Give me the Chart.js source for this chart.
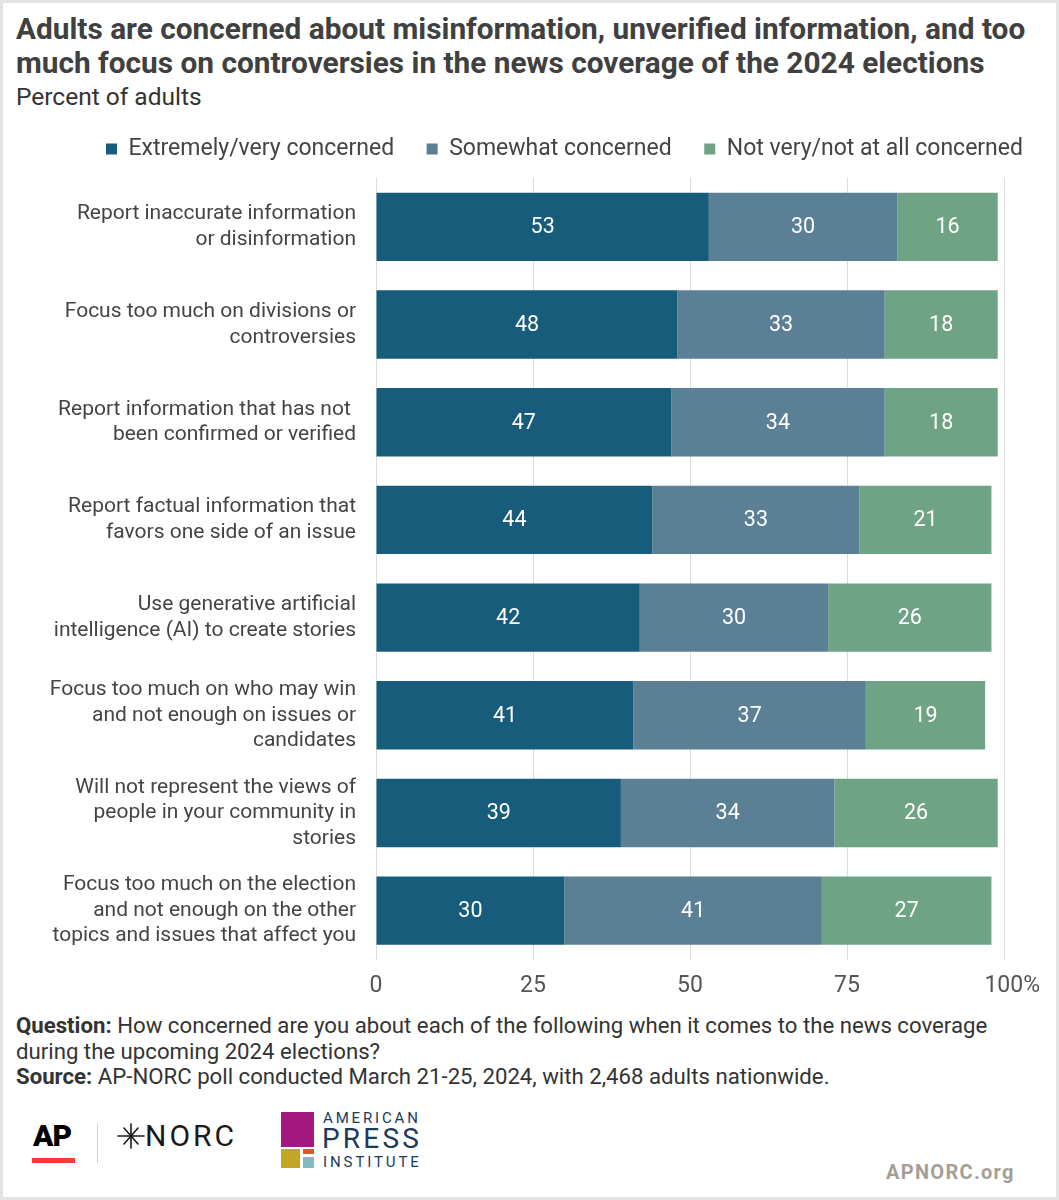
<!DOCTYPE html>
<html><head><meta charset="utf-8">
<script src="https://cdn.jsdelivr.net/npm/chart.js@4.4.1/dist/chart.umd.min.js"></script>
<style>
html,body{margin:0;padding:0;background:#fff;}
#page{position:relative;width:1059px;height:1200px;font-family:Roboto,"Noto Sans",sans-serif;overflow:hidden;background:#fff;}
#frame{position:absolute;left:0;top:0;width:1059px;height:1200px;box-sizing:border-box;border:3px solid #e3e3e3;pointer-events:none;}
.abs{position:absolute;white-space:nowrap;}
#title{left:16px;top:12px;font-size:29.8px;line-height:33.5px;font-weight:700;color:#404040;}
#subtitle{left:16px;top:83px;font-size:24.5px;line-height:28px;color:#333;}
#chartbox{position:absolute;left:0;top:105px;width:1059px;height:900px;}
#footer{left:16px;top:1013px;font-size:22.2px;line-height:25.5px;color:#333;}
#footer b{font-weight:700;}
#ap{left:33px;top:1121px;font-size:30px;line-height:30px;font-weight:900;color:#000;letter-spacing:-1px;}
#apbar{position:absolute;left:32px;top:1158px;width:43px;height:5px;background:#ef3e36;}
#sep{position:absolute;left:97px;top:1123px;width:1px;height:40px;background:#d0d0d0;}
#norc{left:145px;top:1121px;font-size:30px;line-height:30px;color:#1a1a1a;letter-spacing:3px;}
#star{position:absolute;left:117px;top:1122px;}
.sq{position:absolute;}
#api1{left:323px;top:1110px;font-size:15px;line-height:16px;color:#1b3a5c;letter-spacing:2.85px;}
#api2{left:322px;top:1125px;font-size:28px;line-height:28px;color:#1b3a5c;letter-spacing:3.2px;}
#api3{left:323px;top:1154px;font-size:15px;line-height:16px;color:#1b3a5c;letter-spacing:2.9px;}
#apnorc{left:886px;top:1161px;font-size:20px;line-height:22px;font-weight:700;color:#a59e97;letter-spacing:1.3px;}
</style>
</head>
<body>
<div id="page">
  <div class="abs" id="title">Adults are concerned about misinformation, unverified information, and too<br>much focus on controversies in the news coverage of the 2024 elections</div>
  <div class="abs" id="subtitle">Percent of adults</div>
  <div id="chartbox"><canvas id="c"></canvas></div>
  <div class="abs" id="footer"><b>Question:</b> How concerned are you about each of the following when it comes to the news coverage<br>during the upcoming 2024 elections?<br><b>Source:</b> AP-NORC poll conducted March 21-25, 2024, with 2,468 adults nationwide.</div>
  <div class="abs" id="ap">AP</div>
  <div id="apbar"></div>
  <div id="sep"></div>
  <svg id="star" width="28" height="28" viewBox="0 0 28 28">
    <g stroke="#1a1a1a" stroke-width="1.6" stroke-linecap="round">
      <line x1="1" y1="14" x2="27" y2="14"/>
      <line x1="14" y1="2" x2="14" y2="26"/>
      <line x1="7" y1="6" x2="21" y2="22"/>
      <line x1="21" y1="6" x2="7" y2="22"/>
    </g>
  </svg>
  <div class="abs" id="norc">NORC</div>
  <div class="sq" style="left:281px;top:1112px;width:33px;height:35px;background:#a3197f;"></div>
  <div class="sq" style="left:281px;top:1149px;width:19px;height:19px;background:#c2a722;"></div>
  <div class="sq" style="left:303px;top:1149px;width:11px;height:5px;background:#e8532b;"></div>
  <div class="sq" style="left:303px;top:1157px;width:11px;height:11px;background:#7fbcc0;"></div>
  <div class="abs" id="api1">AMERICAN</div>
  <div class="abs" id="api2">PRESS</div>
  <div class="abs" id="api3">INSTITUTE</div>
  <div class="abs" id="apnorc">APNORC.org</div>
  <div id="frame"></div>
</div>
<script>
const categories = [
  ["Report inaccurate information", "or disinformation"],
  ["Focus too much on divisions or", "controversies"],
  ["Report information that has not ", "been confirmed or verified"],
  ["Report factual information that", "favors one side of an issue"],
  ["Use generative artificial", "intelligence (AI) to create stories"],
  ["Focus too much on who may win", "and not enough on issues or", "candidates"],
  ["Will not represent the views of", "people in your community in", "stories"],
  ["Focus too much on the election", "and not enough on the other", "topics and issues that affect you"]
];
const seriesNames = ["Extremely/very concerned", "Somewhat concerned", "Not very/not at all concerned"];
const extremelyVery = [53, 48, 47, 44, 42, 41, 39, 30];
const somewhat = [30, 33, 34, 33, 30, 37, 34, 41];
const notVery = [16, 18, 18, 21, 26, 19, 26, 27];
const xTicks = [0, 25, 50, 75, 100];
const xTickLabels = ["0", "25", "50", "75", "\u2002\u2009100%"];
const colors = ["#185c7b", "#5b7f95", "#6fa386"];

const LEGEND_H = 73;
const LEGEND_LEFT = 73.5;

const layoutTweaks = {
  id: 'layoutTweaks',
  beforeInit(chart) {
    const lg = chart.legend;
    if (lg) {
      const origFit = lg.fit;
      lg.fit = function () { origFit.call(this); this.height = LEGEND_H; };
    }
  },
  afterLayout(chart) {
    const lg = chart.legend;
    if (lg) {
      const w = lg.right - lg.left;
      lg.left = LEGEND_LEFT;
      lg.right = LEGEND_LEFT + w;
    }
  }
};

const valueLabels = {
  id: 'valueLabels',
  afterDatasetsDraw(chart) {
    const ctx = chart.ctx;
    ctx.save();
    ctx.font = '21.5px Roboto';
    ctx.fillStyle = '#ffffff';
    ctx.textAlign = 'center';
    ctx.textBaseline = 'middle';
    chart.data.datasets.forEach((ds, i) => {
      const meta = chart.getDatasetMeta(i);
      meta.data.forEach((el, j) => {
        const p = el.getCenterPoint();
        ctx.fillText(String(ds.data[j]), p.x, p.y + 1);
      });
    });
    ctx.restore();
  }
};

new Chart(document.getElementById('c'), {
  type: 'bar',
  data: {
    labels: categories,
    datasets: [
      { label: seriesNames[0], data: extremelyVery, backgroundColor: colors[0] },
      { label: seriesNames[1], data: somewhat, backgroundColor: colors[1] },
      { label: seriesNames[2], data: notVery, backgroundColor: colors[2] }
    ]
  },
  options: {
    indexAxis: 'y',
    responsive: true,
    maintainAspectRatio: false,
    animation: false,
    datasets: { bar: { categoryPercentage: 1, barPercentage: 0.7, borderWidth: 0 } },
    layout: { padding: { left: 0, right: 55, top: 0, bottom: 0 } },
    plugins: {
      legend: {
        position: 'top',
        align: 'start',
        labels: {
          boxWidth: 11, boxHeight: 11, padding: 32.5,
          color: '#444', font: { family: 'Roboto', size: 23 }
        }
      },
      tooltip: { enabled: false },
      title: { display: false }
    },
    scales: {
      x: {
        stacked: true, min: 0, max: 100,
        afterBuildTicks(s) { s.ticks = xTicks.map(v => ({ value: v })); },
        afterFit(s) { s.height = 45; },
        grid: { color: '#dcdcdc', lineWidth: 1, drawTicks: false },
        border: { display: false },
        ticks: {
          padding: 13, color: '#555', font: { family: 'Roboto', size: 23 },
          callback: (v) => xTickLabels[xTicks.indexOf(v)]
        }
      },
      y: {
        stacked: true,
        afterFit(s) { s.width = 376; },
        grid: { display: false, drawTicks: false },
        border: { display: false },
        ticks: { padding: 20, color: '#444', font: { family: 'Roboto', size: 21, lineHeight: 1.214 } }
      }
    }
  },
  plugins: [layoutTweaks, valueLabels]
});
</script>
</body></html>
